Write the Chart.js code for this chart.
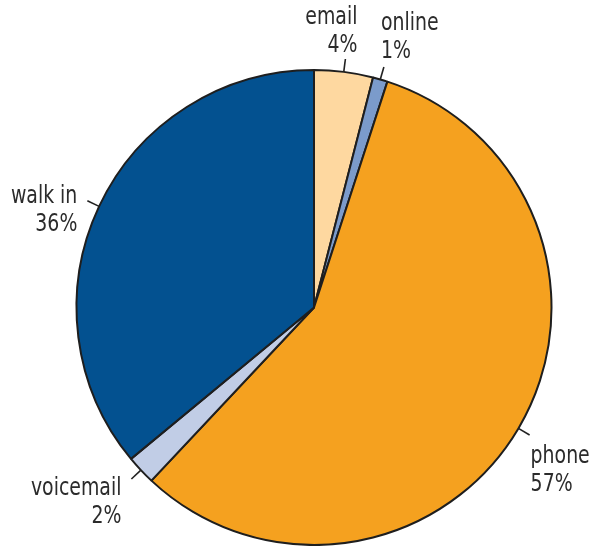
<!DOCTYPE html>
<html>
<head>
<meta charset="utf-8">
<script src="https://cdn.jsdelivr.net/npm/chart.js@4"></script>
<style>
  html, body { margin: 0; padding: 0; background: #fff; }
  #wrap { width: 597px; height: 546px; }
</style>
</head>
<body>
<div id="wrap"><canvas id="myChart" width="597" height="546"></canvas></div>
<script>
const categories = ['email', 'online', 'phone', 'voicemail', 'walk in'];
const shares = [4, 1, 57, 2, 36];
const sliceColors = ['#fed8a0', '#7b9bcb', '#f5a11f', '#c1cde6', '#035190'];

// where each label sits relative to the end of its leader tick
const labelPlacement = [
    { dx: 12, dy: -41, align: 'right' },
    { dx: -3, dy: -43, align: 'left' },
    { dx: 1, dy: 21, align: 'left' },
    { dx: -10, dy: 10, align: 'right' },
    { dx: -10, dy: -4, align: 'right' }
];

// the reference type is a narrow face, so squeeze the text a little
function narrowText(ctx, text, x, y) {
    ctx.save();
    ctx.translate(x, y);
    ctx.scale(0.84, 1);
    ctx.fillText(text, 0, 0);
    ctx.restore();
}

const calloutPlugin = {
    id: 'callouts',
    afterDatasetsDraw(chart) {
        const ctx = chart.ctx;
        const arcs = chart.getDatasetMeta(0).data;
        ctx.save();
        ctx.font = "25px 'DejaVu Sans Condensed', 'DejaVu Sans', sans-serif";
        ctx.fillStyle = '#2b2b2b';
        ctx.strokeStyle = '#222';
        ctx.lineWidth = 1.6;
        ctx.textBaseline = 'middle';
        arcs.forEach((arc, i) => {
            const mid = (arc.startAngle + arc.endAngle) / 2;
            const r = arc.outerRadius;
            const x0 = arc.x + Math.cos(mid) * r;
            const y0 = arc.y + Math.sin(mid) * r;
            const x1 = arc.x + Math.cos(mid) * (r + 13);
            const y1 = arc.y + Math.sin(mid) * (r + 13);
            ctx.beginPath();
            ctx.moveTo(x0, y0);
            ctx.lineTo(x1, y1);
            ctx.stroke();
            const p = labelPlacement[i];
            ctx.textAlign = p.align;
            narrowText(ctx, categories[i], x1 + p.dx, y1 + p.dy);
            narrowText(ctx, shares[i] + '%', x1 + p.dx, y1 + p.dy + 28);
        });
        ctx.restore();
    }
};

new Chart(document.getElementById('myChart'), {
    type: 'pie',
    data: {
        labels: categories,
        datasets: [{
            data: shares,
            backgroundColor: sliceColors,
            borderColor: '#1e1e1e',
            borderWidth: 2
        }]
    },
    options: {
        responsive: false,
        animation: false,
        layout: {
            padding: { left: 75, right: 44, top: 69, bottom: 0 }
        },
        plugins: {
            legend: { display: false },
            tooltip: { enabled: false }
        }
    },
    plugins: [calloutPlugin]
});
</script>
</body>
</html>
